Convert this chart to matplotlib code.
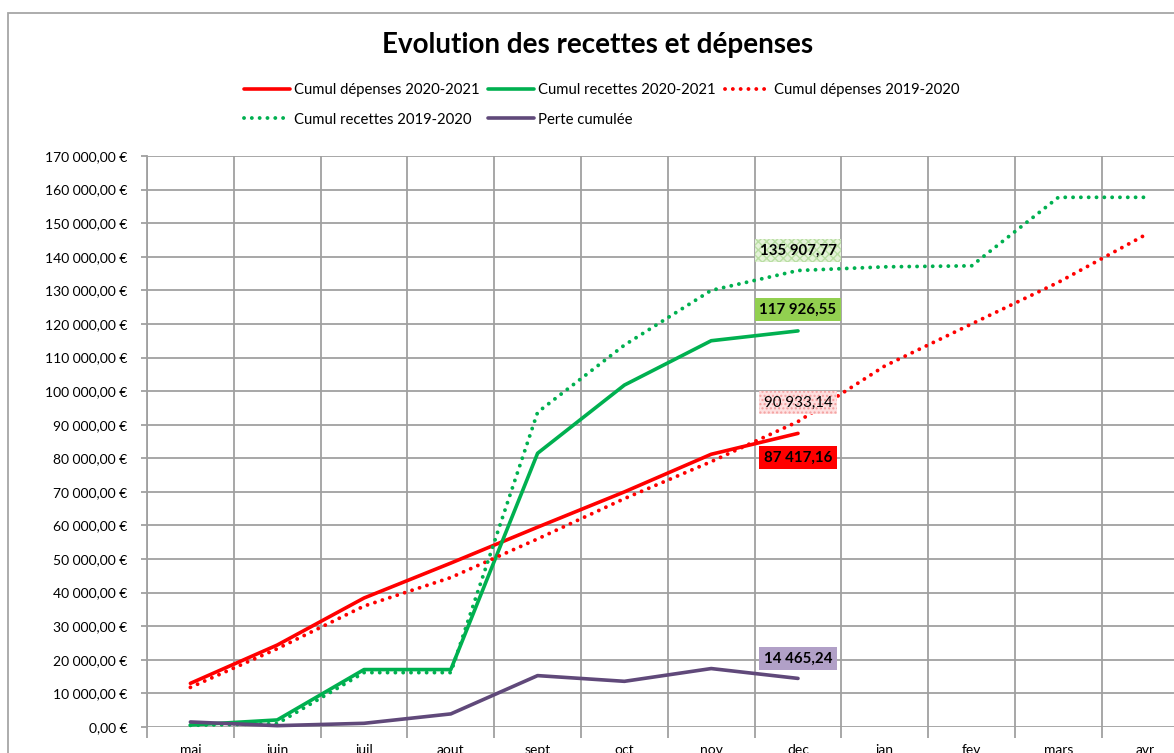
import matplotlib
matplotlib.use("Agg")
import matplotlib.pyplot as plt
from matplotlib.patches import Rectangle
from matplotlib.ticker import FuncFormatter, FixedLocator

plt.rcParams['font.family'] = ['Lato', 'DejaVu Sans']

months = ["mai", "juin", "juil", "aout", "sept", "oct", "nov", "dec", "jan", "fev", "mars", "avr"]

dep_2021 = [13000, 24400, 38400, 48800, 59500, 70000, 81200, 87417.16]
rec_2021 = [600, 2100, 17100, 17100, 81500, 101800, 115000, 117926.55]
dep_1920 = [11800, 23300, 36000, 44500, 56000, 68000, 79000, 90933.14, 107500, 120000, 132400, 146500]
rec_1920 = [500, 1000, 16200, 16200, 93700, 113700, 130000, 135907.77, 137000, 137300, 157700, 157700]
perte = [1500, 400, 1100, 3900, 15300, 13600, 17400, 14465.24]

labels_txt = ["135 907,77", "117 926,55", "90 933,14", "87 417,16", "14 465,24"]

W, H = 1174, 753
fig = plt.figure(figsize=(W / 100, H / 100), dpi=100)
fig.patch.set_facecolor("white")

# outer chart border
fig.add_artist(Rectangle((8 / W, -0.1), 1.2, (753 - 13) / H + 0.1, transform=fig.transFigure,
                         fill=False, edgecolor="#a6a6a6", lw=1.3))

ax = fig.add_axes([147 / W, (H - 727) / H, (1188.6 - 147) / W, (727 - 156) / H])
ax.set_xlim(-0.5, 11.5)
ax.set_ylim(0, 170000)

grid_c = "#a0a0a0"
for s in ax.spines.values():
    s.set_visible(False)
ax.spines['left'].set_visible(True)
ax.spines['left'].set_color(grid_c)
ax.spines['left'].set_linewidth(1.3)

ax.yaxis.set_major_locator(FixedLocator(range(0, 170001, 10000)))
ax.yaxis.set_major_formatter(FuncFormatter(lambda v, p: f"{int(v):,}".replace(",", " ") + ",00 €"))
ax.yaxis.grid(True, color=grid_c, lw=1.3)
ax.tick_params(axis='y', length=4, width=1.3, color=grid_c, pad=10, labelsize=10, labelcolor="#000000")

x = list(range(len(months)))
ax.set_xticks(x)
ax.set_xticklabels(months)
ax.set_xticks([i - 0.5 for i in range(len(months) + 1)], minor=True)
ax.tick_params(axis='x', which='major', length=0, pad=12, labelsize=10)
ax.tick_params(axis='x', which='minor', length=8, width=1.3, color=grid_c)
ax.xaxis.grid(True, which='minor', color=grid_c, lw=1.3)
ax.set_axisbelow(True)

red = "#FF0000"
green = "#00B050"
purple = "#60497A"
dot = (0, (0.01, 2.0))

l1, = ax.plot(x[:len(dep_2021)], dep_2021, color=red, lw=2.6, solid_capstyle='round', label="Cumul dépenses 2020-2021")
l2, = ax.plot(x[:len(rec_2021)], rec_2021, color=green, lw=2.6, solid_capstyle='round', label="Cumul recettes 2020-2021")
l3, = ax.plot(x[:len(dep_1920)], dep_1920, color=red, lw=2.8, ls=dot, dash_capstyle='round', label="Cumul dépenses 2019-2020")
l4, = ax.plot(x[:len(rec_1920)], rec_1920, color=green, lw=2.8, ls=dot, dash_capstyle='round', label="Cumul recettes 2019-2020")
l5, = ax.plot(x[:len(perte)], perte, color=purple, lw=2.6, solid_capstyle='round', label="Perte cumulée")

for ln in (l1, l2, l3, l4, l5):
    ln.set_clip_on(False)

# value labels at "dec"
i = 7
specs = [
    (rec_1920[i], labels_txt[0], 20, dict(boxstyle="square,pad=0.3", fc="#e4f2d8", ec="#b9dea3", lw=0, hatch="xxxx"), True),
    (rec_2021[i], labels_txt[1], 21, dict(boxstyle="square,pad=0.3", fc="#92D050", ec="none"), True),
    (dep_1920[i], labels_txt[2], 19, dict(boxstyle="square,pad=0.3", fc="#fde0e0", ec="#f4a0a0", lw=0, hatch="...."), False),
    (dep_2021[i], labels_txt[3], -24, dict(boxstyle="square,pad=0.3", fc="#FF0000", ec="none"), True),
    (perte[i], labels_txt[4], 20, dict(boxstyle="square,pad=0.3", fc="#B1A0C7", ec="none"), True),
]
for yv, txt, dy, bb, bold in specs:
    ax.annotate(txt, xy=(i, yv), xytext=(0, dy), textcoords="offset pixels",
                ha="center", va="center", fontsize=10.8,
                fontweight="bold" if bold else "normal", color="black", bbox=bb, zorder=5)

fig.text(598 / W, (H - 45) / H, "Evolution des recettes et dépenses", ha="center", va="center",
         fontsize=20, fontweight="bold")

handles = [l1, l4, l2, l5, l3]
fig.legend(handles=handles, labels=[h.get_label() for h in handles], ncol=3,
           loc="upper left", bbox_to_anchor=(244 / W, (H - 83) / H), frameon=False,
           fontsize=10.7, handlelength=3.1, handletextpad=0.25, columnspacing=0.6,
           labelspacing=1.05, borderaxespad=0, borderpad=0)

fig.savefig("out.png", dpi=100, facecolor="white")
